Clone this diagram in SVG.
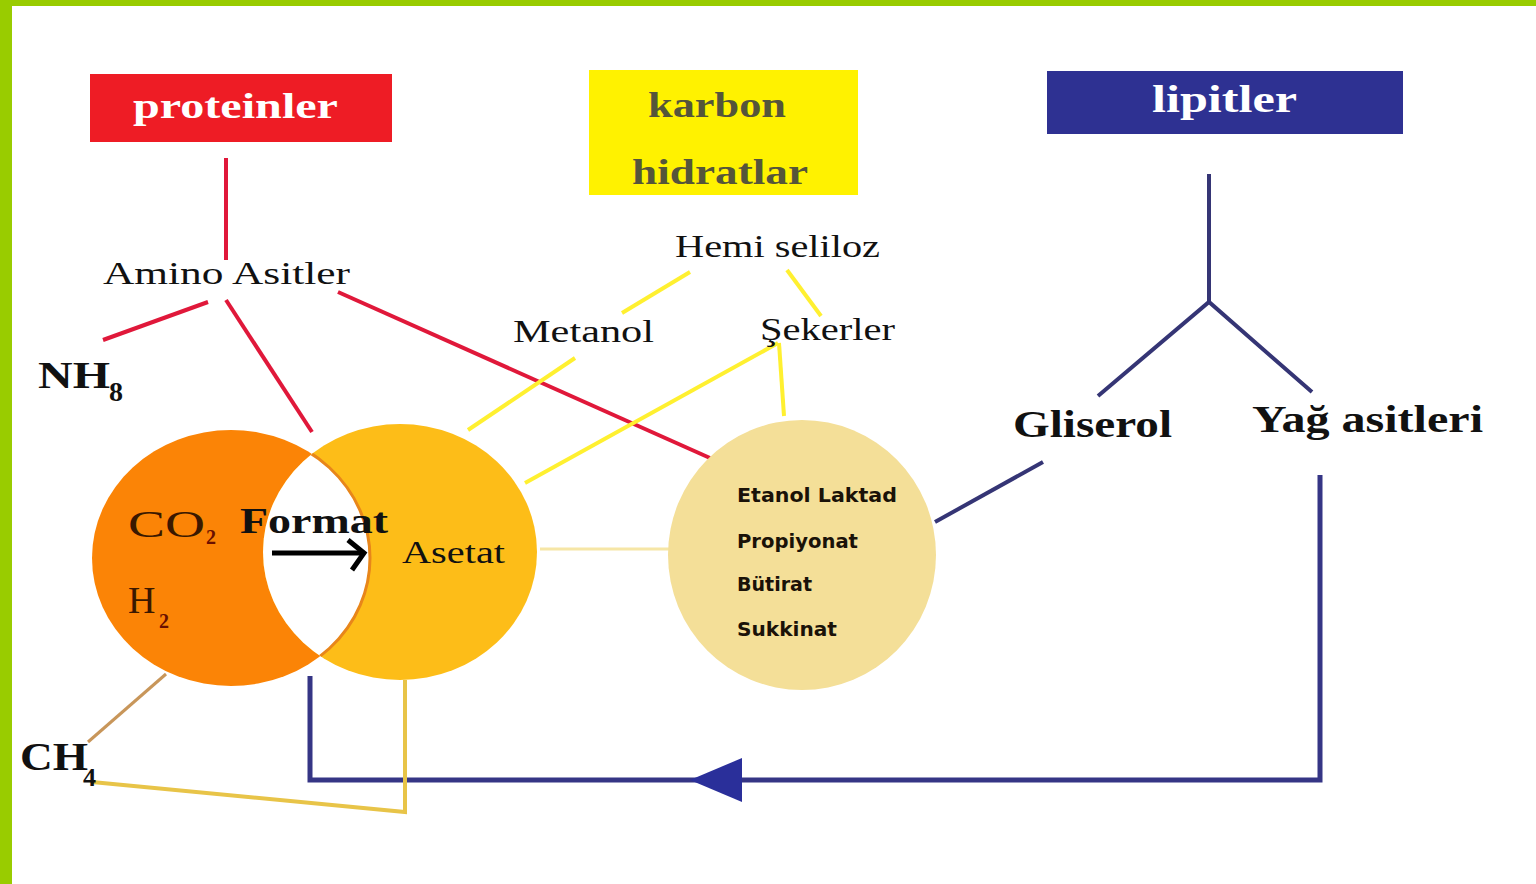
<svg xmlns="http://www.w3.org/2000/svg" width="1536" height="884" viewBox="0 0 1536 884">
<style>
.t{font-family:"Liberation Serif","DejaVu Serif",serif;fill:#111}
.b{font-weight:bold}
.w{fill:#fff}
.tan{font-family:"DejaVu Sans","Liberation Sans",sans-serif;font-weight:bold;font-size:20px;fill:#1a1208}
.red{stroke:#e0183a;stroke-width:4;fill:none}
.yel{stroke:#fff030;stroke-width:4;fill:none}
.blu{stroke:#353575;stroke-width:4;fill:none}
</style>
<defs>
<clipPath id="cy"><ellipse cx="400" cy="552" rx="137" ry="128"/></clipPath>
</defs>
<rect width="1536" height="884" fill="#fff"/>
<rect x="0" y="0" width="1536" height="6" fill="#99cc00"/>
<rect x="0" y="0" width="12" height="884" fill="#99cc00"/>

<g id="connectors">
<line class="red" x1="226" y1="158" x2="226" y2="260"/>
<line class="red" x1="208" y1="302" x2="103" y2="340"/>
<line class="red" x1="226" y1="300" x2="312" y2="432"/>
<line class="red" x1="338" y1="292" x2="710" y2="458"/>
<line class="yel" x1="690" y1="272" x2="622" y2="313"/>
<line class="yel" x1="787" y1="270" x2="821" y2="316"/>
<line class="yel" x1="575" y1="358" x2="468" y2="430"/>
<line class="yel" x1="778" y1="343" x2="525" y2="483"/>
<line class="yel" x1="779" y1="343" x2="784" y2="416"/>
<line stroke="#f6e6a6" stroke-width="3" x1="540" y1="549" x2="670" y2="549"/>
<line class="blu" x1="1209" y1="174" x2="1209" y2="302"/>
<polyline class="blu" points="1098,396 1209,302 1312,392"/>
<line class="blu" x1="1043" y1="462" x2="935" y2="522"/>
<polyline points="1320,475 1320,780 310,780 310,676" fill="none" stroke="#353585" stroke-width="5"/>
<polygon points="690,780 742,758 742,802" fill="#2a2f9a"/>
<line stroke="#c8965a" stroke-width="3" x1="166" y1="674" x2="88" y2="742"/>
<polyline points="92,782 405,812 405,680" fill="none" stroke="#e8c448" stroke-width="4"/>
</g>

<g id="proteinler">
<rect x="90" y="74" width="302" height="68" fill="#ee1c25"/>
<text class="t b w" x="133" y="118" font-size="36" textLength="205" lengthAdjust="spacingAndGlyphs">proteinler</text>
</g>

<g id="karbonhidratlar">
<rect x="589" y="70" width="269" height="125" fill="#fff200"/>
<text class="t b" x="648" y="117" font-size="36" style="fill:#55553a" textLength="138" lengthAdjust="spacingAndGlyphs">karbon</text>
<text class="t b" x="632" y="184" font-size="36" style="fill:#55553a" textLength="176" lengthAdjust="spacingAndGlyphs">hidratlar</text>
</g>

<g id="lipitler">
<rect x="1047" y="71" width="356" height="63" fill="#2e3192"/>
<text class="t b w" x="1152" y="112" font-size="38" textLength="145" lengthAdjust="spacingAndGlyphs">lipitler</text>
</g>

<g id="amino">
<text class="t" x="103" y="284" font-size="32" textLength="247" lengthAdjust="spacingAndGlyphs">Amino  Asitler</text>
</g>
<g id="hemiseliloz">
<text class="t" x="675" y="257" font-size="32" textLength="205" lengthAdjust="spacingAndGlyphs">Hemi seliloz</text>
</g>
<g id="metanol">
<text class="t" x="513" y="342" font-size="32" textLength="141" lengthAdjust="spacingAndGlyphs">Metanol</text>
</g>
<g id="sekerler">
<text class="t" x="760" y="340" font-size="32" textLength="135" lengthAdjust="spacingAndGlyphs">Şekerler</text>
</g>
<g id="nh3">
<text class="t b" x="38" y="388" font-size="38" textLength="72" lengthAdjust="spacingAndGlyphs">NH</text>
<text class="t b" x="109" y="401" font-size="28">8</text>
</g>
<g id="gliserol">
<text class="t b" x="1013" y="437" font-size="38" textLength="159" lengthAdjust="spacingAndGlyphs">Gliserol</text>
</g>
<g id="yagasitleri">
<text class="t b" x="1252" y="432" font-size="38" textLength="231" lengthAdjust="spacingAndGlyphs">Yağ asitleri</text>
</g>

<g id="venn">
<ellipse cx="231" cy="558" rx="139" ry="128" fill="#fb8406"/>
<ellipse cx="400" cy="552" rx="137" ry="128" fill="#fdbd18"/>
<ellipse cx="231" cy="558" rx="139" ry="128" fill="#fff" stroke="#e8861a" stroke-width="3" clip-path="url(#cy)"/>
<text class="t" x="128" y="537" font-size="38" style="fill:#3a1800" textLength="77" lengthAdjust="spacingAndGlyphs">CO</text>
<text class="t b" x="206" y="544" font-size="20" style="fill:#6a1000">2</text>
<text class="t" x="128" y="613" font-size="38" style="fill:#3a1800">H</text>
<text class="t b" x="159" y="628" font-size="20" style="fill:#6a1000">2</text>
<text class="t b" x="240" y="533" font-size="36" textLength="148" lengthAdjust="spacingAndGlyphs">Format</text>
<line x1="272" y1="553" x2="362" y2="553" stroke="#000" stroke-width="5"/>
<polyline points="348,540 364,553 352,570" fill="none" stroke="#000" stroke-width="5"/>
<text class="t" x="402" y="563" font-size="32" textLength="103" lengthAdjust="spacingAndGlyphs">Asetat</text>
</g>

<g id="urunler">
<ellipse cx="802" cy="555" rx="134" ry="135" fill="#f4df98"/>
<text class="tan" x="737" y="502" textLength="160" lengthAdjust="spacingAndGlyphs">Etanol Laktad</text>
<text class="tan" x="737" y="548" textLength="121" lengthAdjust="spacingAndGlyphs">Propiyonat</text>
<text class="tan" x="737" y="591" textLength="75" lengthAdjust="spacingAndGlyphs">Bütirat</text>
<text class="tan" x="737" y="636" textLength="100" lengthAdjust="spacingAndGlyphs">Sukkinat</text>
</g>

<g id="ch4">
<text class="t b" x="20" y="770" font-size="40" textLength="68" lengthAdjust="spacingAndGlyphs">CH</text>
<text class="t b" x="83" y="786" font-size="26">4</text>
</g>
</svg>
